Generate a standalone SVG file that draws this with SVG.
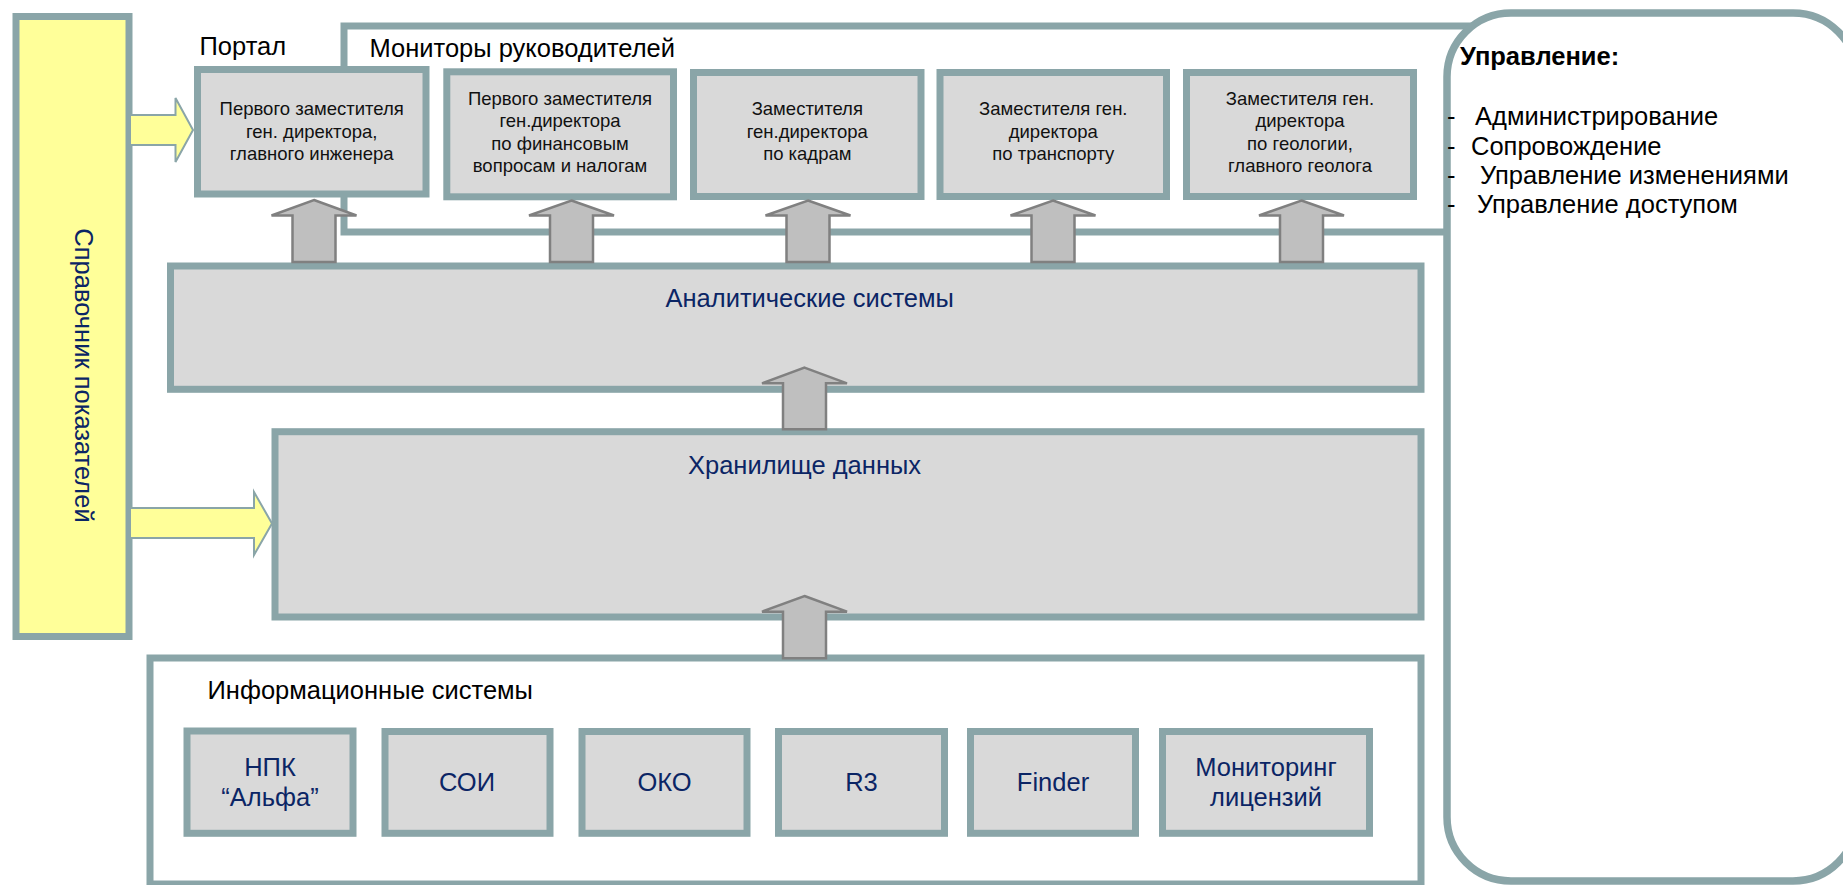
<svg xmlns="http://www.w3.org/2000/svg" width="1843" height="885" viewBox="0 0 1843 885">
<style>
  .box{fill:#D9D9D9;stroke:#8AA5A8;stroke-width:7}
  .frame{fill:none;stroke:#8AA5A8;stroke-width:7}
  .t{font-family:"Liberation Sans",Arial,sans-serif}
  .lbl{font-size:25.5px;fill:#000}
  .nv{font-size:25.5px;fill:#0B2565}
  .sm{font-size:18.5px;fill:#111;text-anchor:middle}
  .mid{text-anchor:middle}
  .ga{fill:#BFBFBF;stroke:#808080;stroke-width:2.5;stroke-linejoin:miter}
  .ya{fill:#FFFF99;stroke:#8AA5A8;stroke-width:2}
</style>
<rect width="1843" height="885" fill="#fff"/>

<g id="spravochnik">
  <rect x="16" y="16.5" width="113" height="620" fill="#FFFF99" stroke="#8AA5A8" stroke-width="7"/>
  <text class="t nv mid" transform="translate(75,375.5) rotate(90)">Справочник показателей</text>
</g>

<g id="monitors-frame">
  <rect class="frame" x="344" y="26" width="1200" height="206"/>
  <text class="t lbl" x="199.5" y="55">Портал</text>
  <text class="t lbl" x="369.5" y="57">Мониторы руководителей</text>
</g>

<g id="upravlenie">
  <rect x="1447" y="13" width="410" height="868" rx="64" ry="64" fill="#fff" stroke="#8AA5A8" stroke-width="7.5"/>
  <text class="t" x="1460" y="65" font-size="25.5" font-weight="bold" fill="#000">Управление:</text>
  <text class="t lbl"><tspan x="1447" y="125">-</tspan><tspan x="1475" y="125">Администрирование</tspan></text>
  <text class="t lbl"><tspan x="1447" y="155">-</tspan><tspan x="1471" y="155">Сопровождение</tspan></text>
  <text class="t lbl"><tspan x="1447" y="184">-</tspan><tspan x="1480" y="184">Управление изменениями</tspan></text>
  <text class="t lbl"><tspan x="1447" y="213">-</tspan><tspan x="1477" y="213">Управление доступом</tspan></text>
</g>

<g id="mon1">
  <rect class="box" x="197.5" y="69.5" width="228.5" height="124.5"/>
  <text class="t sm" x="311.7" y="115">Первого заместителя</text>
  <text class="t sm" x="311.7" y="137.5">ген. директора,</text>
  <text class="t sm" x="311.7" y="160">главного инженера</text>
</g>
<g id="mon2">
  <rect class="box" x="446.8" y="71.8" width="226.7" height="125"/>
  <text class="t sm" x="560" y="105">Первого заместителя</text>
  <text class="t sm" x="560" y="127.3">ген.директора</text>
  <text class="t sm" x="560" y="149.6">по финансовым</text>
  <text class="t sm" x="560" y="172">вопросам и налогам</text>
</g>
<g id="mon3">
  <rect class="box" x="693.5" y="72.5" width="227.5" height="124"/>
  <text class="t sm" x="807.3" y="115">Заместителя</text>
  <text class="t sm" x="807.3" y="137.5">ген.директора</text>
  <text class="t sm" x="807.3" y="160">по кадрам</text>
</g>
<g id="mon4">
  <rect class="box" x="940" y="72.5" width="226.5" height="124"/>
  <text class="t sm" x="1053.3" y="115">Заместителя ген.</text>
  <text class="t sm" x="1053.3" y="137.5">директора</text>
  <text class="t sm" x="1053.3" y="160">по транспорту</text>
</g>
<g id="mon5">
  <rect class="box" x="1186.5" y="72.5" width="227" height="124"/>
  <text class="t sm" x="1300" y="105">Заместителя ген.</text>
  <text class="t sm" x="1300" y="127.3">директора</text>
  <text class="t sm" x="1300" y="149.6">по геологии,</text>
  <text class="t sm" x="1300" y="172">главного геолога</text>
</g>

<g id="analytics">
  <rect class="box" x="170.5" y="266" width="1250.5" height="123.3"/>
  <text class="t nv mid" x="809.7" y="307">Аналитические системы</text>
</g>

<g id="storage">
  <rect class="box" x="275" y="431.7" width="1146" height="185.3"/>
  <text class="t nv mid" x="804.5" y="474">Хранилище данных</text>
</g>

<g id="infosys">
  <rect class="frame" x="150" y="658" width="1271" height="226"/>
  <text class="t lbl" x="207.5" y="699">Информационные системы</text>
</g>
<g id="is-npk">
  <rect class="box" x="187" y="731" width="166" height="102.3"/>
  <text class="t nv mid" x="270" y="776">НПК</text>
  <text class="t nv mid" x="270" y="806">“Альфа”</text>
</g>
<g id="is-soi">
  <rect class="box" x="385" y="731.5" width="165" height="101.8"/>
  <text class="t nv mid" x="467" y="791">СОИ</text>
</g>
<g id="is-oko">
  <rect class="box" x="582" y="731.5" width="165" height="101.8"/>
  <text class="t nv mid" x="664.5" y="791">ОКО</text>
</g>
<g id="is-r3">
  <rect class="box" x="778.5" y="731.5" width="166" height="101.8"/>
  <text class="t nv mid" x="861.5" y="791">R3</text>
</g>
<g id="is-finder">
  <rect class="box" x="970.5" y="731.5" width="165" height="101.8"/>
  <text class="t nv mid" x="1053" y="791">Finder</text>
</g>
<g id="is-monlic">
  <rect class="box" x="1162.5" y="731.5" width="207" height="101.8"/>
  <text class="t nv mid" x="1266" y="776">Мониторинг</text>
  <text class="t nv mid" x="1266" y="806">лицензий</text>
</g>

<g id="connectors">
  <polygon class="ya" points="130,115 175.5,115 175.5,98 193,130 175.5,162 175.5,145 130,145"/>
  <polygon class="ya" points="130,508 254,508 254,492 272,523.5 254,555 254,538 130,538"/>
  <polygon class="ga" points="314,200 356.5,215.5 335.5,215.5 335.5,262 292.5,262 292.5,215.5 271.5,215.5"/>
  <polygon class="ga" points="571.5,200.5 614,215.5 593,215.5 593,262 550,262 550,215.5 529,215.5"/>
  <polygon class="ga" points="808,200.5 850.5,215.5 829.5,215.5 829.5,262 786.5,262 786.5,215.5 765.5,215.5"/>
  <polygon class="ga" points="1053,200.5 1095.5,215.5 1074.5,215.5 1074.5,262 1031.5,262 1031.5,215.5 1010.5,215.5"/>
  <polygon class="ga" points="1301.5,200.5 1344,215.5 1323,215.5 1323,262 1280,262 1280,215.5 1259,215.5"/>
  <polygon class="ga" points="804.5,367.7 847,383.3 826,383.3 826,429.3 783,429.3 783,383.3 762,383.3"/>
  <polygon class="ga" points="804.5,596 847,611.7 826,611.7 826,658.3 783,658.3 783,611.7 762,611.7"/>
</g>
</svg>
